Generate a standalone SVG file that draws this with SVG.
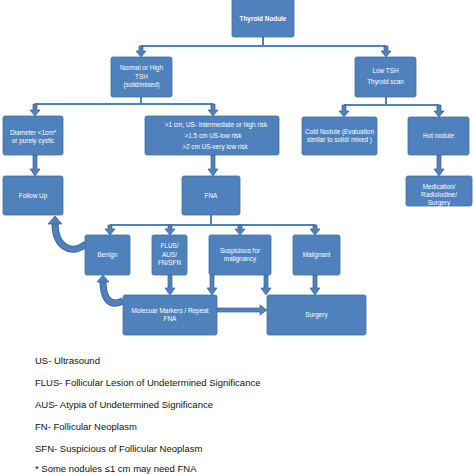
<svg xmlns="http://www.w3.org/2000/svg" width="474" height="474" viewBox="0 0 474 474">
<defs>
<style>
.box{fill:#4f81bd;stroke:#41719c;stroke-width:0.8}
.t{font-family:"Liberation Sans",Arial,sans-serif;font-size:6.4px;fill:#fff;text-anchor:middle}
.b{font-weight:bold}
.ln{stroke:#4f81bd;stroke-width:2;fill:none}
.ar{fill:#4f81bd;stroke:#385d8a;stroke-width:0.7}
.cv1{stroke:#385d8a;stroke-width:7;fill:none}
.cv2{stroke:#4f81bd;stroke-width:5.4;fill:none}
.lg{font-family:"Liberation Sans",Arial,sans-serif;font-size:9.5px;fill:#111}
</style>
</defs>
<rect width="474" height="474" fill="#fff"/>

<g id="connectors">
<path class="ln" d="M263,37V46M141,46H386M141,97V104M35,104H213M386,97V105M344,105H439M211,215V225M110,225H315"/>
<path class="ar" d="M139,46h4v5h3l-5,6l-5,-6h3z"/>
<path class="ar" d="M384,46h4v5h3l-5,6l-5,-6h3z"/>
<path class="ar" d="M33,104h4v6h3l-5,6l-5,-6h3z"/>
<path class="ar" d="M211,104h4v6h3l-5,6l-5,-6h3z"/>
<path class="ar" d="M342,105h4v6h3l-5,6l-5,-6h3z"/>
<path class="ar" d="M437,105h4v6h3l-5,6l-5,-6h3z"/>
<path class="ar" d="M33,155h4v14h3l-5,7l-5,-7h3z"/>
<path class="ar" d="M211,155h4v14h3l-5,7l-5,-7h3z"/>
<path class="ar" d="M437,155h4v14h3l-5,7l-5,-7h3z"/>
<path class="ar" d="M108,225h4v4h3l-5,6l-5,-6h3z"/>
<path class="ar" d="M168,225h4v4h3l-5,6l-5,-6h3z"/>
<path class="ar" d="M238,225h4v4h3l-5,6l-5,-6h3z"/>
<path class="ar" d="M313,225h4v4h3l-5,6l-5,-6h3z"/>
<path class="ar" d="M168,275h4v13h3l-5,7l-5,-7h3z"/>
<path class="ar" d="M210,275h4v13h3l-5,7l-5,-7h3z"/>
<path class="ar" d="M264,275h4v13h3l-5,7l-5,-7h3z"/>
<path class="ar" d="M313,275h4v13h3l-5,7l-5,-7h3z"/>
<path class="ar" d="M217,308h43v-3l7,5l-7,5v-3h-43z"/>
<path class="cv1" d="M86,244C70,256 55,246 55,223"/>
<path class="cv2" d="M86,244C70,256 55,246 55,223"/>
<path class="ar" d="M48,224L55,216L62,224z"/>
<path class="cv1" d="M123,301C108,308 103,296 103,281"/>
<path class="cv2" d="M123,301C108,308 103,296 103,281"/>
<path class="ar" d="M97,282L103,275L109,282z"/>
</g>

<g id="n-thyroid"><rect class="box" x="232" y="-2" width="62" height="39" rx="2"/><text class="t b" x="263" y="21">Thyroid Nodule</text></g>
<g id="n-normal"><rect class="box" x="111" y="57" width="61" height="40" rx="2"/><text class="t" x="141.5" y="70">Normal or High</text><text class="t" x="141.5" y="78.5">TSH</text><text class="t" x="141.5" y="87">(solid/mixed)</text></g>
<g id="n-low"><rect class="box" x="355" y="57" width="61" height="40" rx="2"/><text class="t" x="385.5" y="73">Low TSH</text><text class="t" x="385.5" y="84">Thyroid scan</text></g>
<g id="n-diam"><rect class="box" x="3" y="116" width="60" height="39" rx="2"/><text class="t" x="33" y="135">Diameter &lt;1cm*</text><text class="t" x="33" y="143">or purely cystic</text></g>
<g id="n-size"><rect class="box" x="145" y="116" width="134" height="39" rx="2"/><text class="t" x="216" y="127">&gt;1 cm,  US- Intermediate or high risk</text><text class="t" x="213" y="138">&gt;1.5 cm US-low risk</text><text class="t" x="215" y="149">&gt;2 cm US-very low risk</text></g>
<g id="n-cold"><rect class="box" x="302" y="117" width="75" height="38" rx="2"/><text class="t" x="339.5" y="134">Cold Nodule (Evaluation</text><text class="t" x="339.5" y="142">similar to solid/ mixed )</text></g>
<g id="n-hot"><rect class="box" x="408" y="117" width="61" height="38" rx="2"/><text class="t" x="438.5" y="138">Hot nodule</text></g>
<g id="n-follow"><rect class="box" x="3" y="176" width="60" height="39" rx="2"/><text class="t" x="33" y="198">Follow Up</text></g>
<g id="n-fna"><rect class="box" x="182" y="176" width="58" height="39" rx="2"/><text class="t" x="211" y="198">FNA</text></g>
<g id="n-med"><rect class="box" x="406" y="176" width="66" height="30" rx="2"/><text class="t" x="439" y="189">Medication/</text><text class="t" x="439" y="197">RadioIodine/</text><text class="t" x="439" y="205">Surgery</text></g>
<g id="n-benign"><rect class="box" x="85" y="235" width="45" height="40" rx="2"/><text class="t" x="107.5" y="257">Benign</text></g>
<g id="n-flus"><rect class="box" x="152" y="235" width="35" height="40" rx="2"/><text class="t" x="169.5" y="248">FLUS/</text><text class="t" x="169.5" y="256.5">AUS/</text><text class="t" x="169.5" y="265">FN/SFN</text></g>
<g id="n-susp"><rect class="box" x="209" y="235" width="62" height="40" rx="2"/><text class="t" x="240" y="253">Suspicious for</text><text class="t" x="240" y="261">malignancy</text></g>
<g id="n-malig"><rect class="box" x="293" y="235" width="47" height="40" rx="2"/><text class="t" x="316.5" y="257">Malignant</text></g>
<g id="n-mol"><rect class="box" x="123" y="295" width="94" height="40" rx="2"/><text class="t" x="170" y="313">Molecuar Markers / Repeat</text><text class="t" x="170" y="321">FNA</text></g>
<g id="n-surgery"><rect class="box" x="267" y="295" width="99" height="40" rx="2"/><text class="t" x="316.5" y="317">Surgery</text></g>

<g id="legend">
<text class="lg" x="35" y="363.5">US- Ultrasound</text>
<text class="lg" x="35" y="385.5">FLUS- Follicular Lesion of Undetermined Significance</text>
<text class="lg" x="35" y="407.5">AUS- Atypia of Undetermined Significance</text>
<text class="lg" x="35" y="430">FN- Follicular Neoplasm</text>
<text class="lg" x="35" y="452">SFN- Suspicious of Follicular Neoplasm</text>
<text class="lg" x="35" y="472">* Some nodules ≤1 cm may need FNA</text>
</g>
</svg>
